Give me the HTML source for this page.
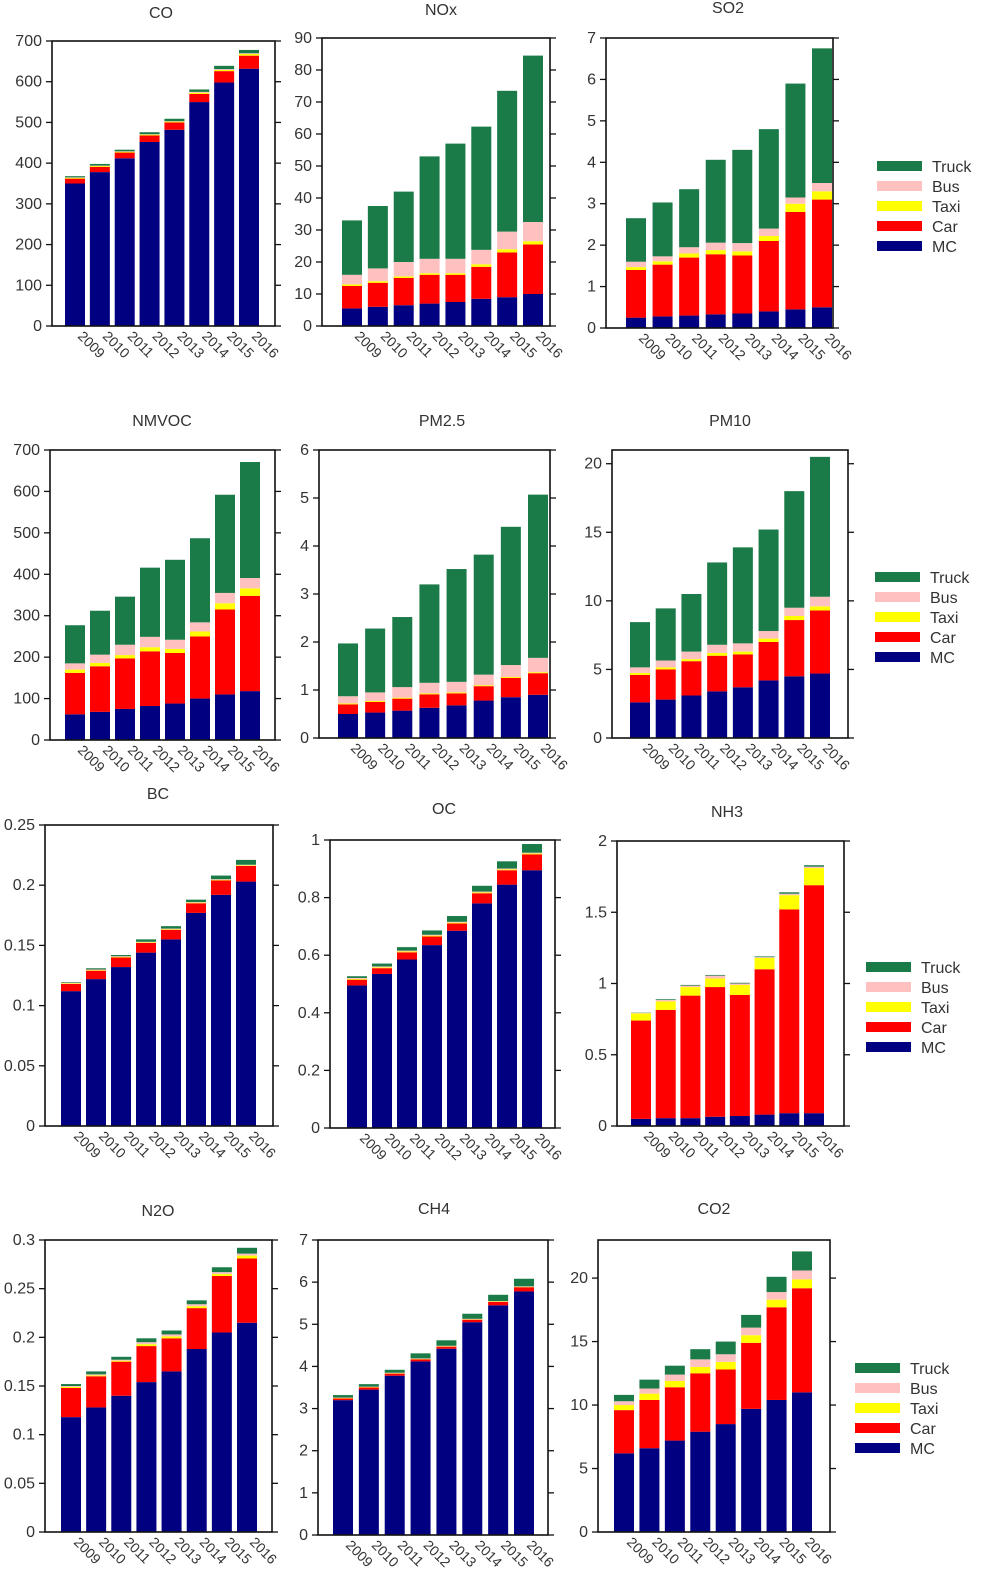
<!DOCTYPE html>
<html><head><meta charset="utf-8">
<style>
html,body{margin:0;padding:0;background:#fff;}
svg{display:block;font-family:"Liberation Sans",Arial,sans-serif;}
</style></head>
<body>
<svg id="chart" width="989" height="1590" viewBox="0 0 989 1590" xmlns="http://www.w3.org/2000/svg"></svg>
<script>
const years = ['2009','2010','2011','2012','2013','2014','2015','2016'];
const categories = ['MC','Car','Taxi','Bus','Truck'];
const legendOrder = ['Truck','Bus','Taxi','Car','MC'];

const CO_MC=[350,378,412,452,482,550,598,632];
const CO_Car=[12,13,14,16,18,20,28,32];
const CO_Taxi=[2,2,2,2,2,3,3,4];
const CO_Bus=[1,1,1,1,1,2,2,2];
const CO_Truck=[3,4,4,5,6,6,8,8];

const NOx_MC=[5.5,6,6.5,7,7.5,8.5,9,10];
const NOx_Car=[7,7.5,8.5,9,8.5,10,14,15.5];
const NOx_Taxi=[0.5,0.5,0.5,0.5,0.5,0.8,1,1];
const NOx_Bus=[3,4,4.5,4.5,4.5,4.5,5.5,6];
const NOx_Truck=[17,19.5,22,32,36,38.5,44,52];

const SO2_MC=[0.25,0.28,0.3,0.33,0.35,0.4,0.45,0.5];
const SO2_Car=[1.15,1.25,1.4,1.45,1.4,1.7,2.35,2.6];
const SO2_Taxi=[0.07,0.08,0.1,0.1,0.1,0.12,0.2,0.2];
const SO2_Bus=[0.13,0.12,0.15,0.18,0.2,0.18,0.15,0.2];
const SO2_Truck=[1.05,1.3,1.4,2.0,2.25,2.4,2.75,3.25];

const NMVOC_MC=[62,68,75,82,88,100,110,118];
const NMVOC_Car=[100,110,122,132,122,150,205,230];
const NMVOC_Taxi=[8,8,8,10,10,12,15,18];
const NMVOC_Bus=[15,20,25,25,22,22,25,25];
const NMVOC_Truck=[92,106,116,167,193,203,237,280];

const PM25_MC=[0.5,0.53,0.57,0.63,0.68,0.78,0.85,0.9];
const PM25_Car=[0.2,0.22,0.25,0.28,0.25,0.3,0.4,0.45];
const PM25_Taxi=[0.02,0.02,0.02,0.02,0.02,0.02,0.02,0.02];
const PM25_Bus=[0.15,0.18,0.22,0.22,0.22,0.22,0.25,0.3];
const PM25_Truck=[1.1,1.33,1.46,2.05,2.35,2.5,2.88,3.4];

const PM10_MC=[2.6,2.8,3.1,3.4,3.7,4.2,4.5,4.7];
const PM10_Car=[2.0,2.2,2.5,2.6,2.4,2.8,4.1,4.6];
const PM10_Taxi=[0.15,0.15,0.15,0.2,0.2,0.25,0.3,0.3];
const PM10_Bus=[0.4,0.5,0.55,0.6,0.6,0.55,0.6,0.7];
const PM10_Truck=[3.3,3.8,4.2,6.0,7.0,7.4,8.5,10.2];

const BC_MC=[0.112,0.122,0.132,0.144,0.155,0.177,0.192,0.203];
const BC_Car=[0.006,0.007,0.008,0.008,0.008,0.008,0.012,0.013];
const BC_Taxi=[0.0005,0.0005,0.0005,0.0005,0.0005,0.0005,0.0005,0.0005];
const BC_Bus=[0.0005,0.0005,0.0005,0.0005,0.0005,0.0005,0.0005,0.0005];
const BC_Truck=[0.0005,0.001,0.001,0.002,0.002,0.002,0.003,0.004];

const OC_MC=[0.495,0.535,0.585,0.635,0.685,0.78,0.845,0.895];
const OC_Car=[0.02,0.02,0.025,0.03,0.025,0.035,0.05,0.055];
const OC_Taxi=[0.003,0.003,0.003,0.003,0.003,0.003,0.003,0.003];
const OC_Bus=[0.003,0.003,0.003,0.003,0.003,0.003,0.003,0.003];
const OC_Truck=[0.006,0.01,0.012,0.015,0.02,0.02,0.025,0.03];

const NH3_MC=[0.05,0.055,0.055,0.065,0.07,0.08,0.09,0.09];
const NH3_Car=[0.69,0.76,0.86,0.91,0.85,1.02,1.43,1.6];
const NH3_Taxi=[0.05,0.06,0.06,0.06,0.07,0.08,0.1,0.12];
const NH3_Bus=[0.003,0.01,0.01,0.02,0.01,0.005,0.01,0.01];
const NH3_Truck=[0.002,0.005,0.005,0.005,0.005,0.005,0.01,0.01];

const N2O_MC=[0.118,0.128,0.14,0.154,0.165,0.188,0.205,0.215];
const N2O_Car=[0.03,0.032,0.035,0.037,0.034,0.042,0.058,0.066];
const N2O_Taxi=[0.001,0.001,0.001,0.002,0.002,0.002,0.002,0.003];
const N2O_Bus=[0.001,0.001,0.001,0.002,0.002,0.002,0.002,0.002];
const N2O_Truck=[0.002,0.003,0.003,0.004,0.004,0.004,0.005,0.006];

const CH4_MC=[3.2,3.45,3.78,4.12,4.42,5.05,5.45,5.78];
const CH4_Car=[0.04,0.05,0.05,0.05,0.05,0.06,0.08,0.1];
const CH4_Taxi=[0.01,0.01,0.01,0.01,0.01,0.01,0.01,0.01];
const CH4_Bus=[0.01,0.01,0.01,0.01,0.01,0.01,0.01,0.01];
const CH4_Truck=[0.06,0.06,0.07,0.12,0.13,0.12,0.15,0.18];

const CO2_MC=[6.2,6.6,7.2,7.9,8.5,9.7,10.4,11.0];
const CO2_Car=[3.4,3.8,4.2,4.6,4.3,5.2,7.3,8.2];
const CO2_Taxi=[0.4,0.5,0.5,0.5,0.6,0.6,0.6,0.7];
const CO2_Bus=[0.3,0.4,0.5,0.6,0.6,0.6,0.6,0.7];
const CO2_Truck=[0.5,0.7,0.7,0.8,1.0,1.0,1.2,1.5];

const ticksCO=['0','100','200','300','400','500','600','700'];
const ticksNOx=['0','10','20','30','40','50','60','70','80','90'];
const ticksSO2=['0','1','2','3','4','5','6','7'];
const ticksNMVOC=['0','100','200','300','400','500','600','700'];
const ticksPM25=['0','1','2','3','4','5','6'];
const ticksPM10=['0','5','10','15','20'];
const ticksBC=['0','0.05','0.1','0.15','0.2','0.25'];
const ticksOC=['0','0.2','0.4','0.6','0.8','1'];
const ticksNH3=['0','0.5','1','1.5','2'];
const ticksN2O=['0','0.05','0.1','0.15','0.2','0.25','0.3'];
const ticksCH4=['0','1','2','3','4','5','6','7'];
const ticksCO2=['0','5','10','15','20'];

const colors={MC:'#000080',Car:'#ff0000',Taxi:'#ffff00',Bus:'#ffc0c0',Truck:'#1a7a48'};

const panels=[
 {name:'CO',key:'co',series:[CO_MC,CO_Car,CO_Taxi,CO_Bus,CO_Truck],ticks:ticksCO,max:700,x0:52,x1:275,yt:41,yb:326,c0:75,c7:249,tx:161,ty:18},
 {name:'NOx',key:'nox',series:[NOx_MC,NOx_Car,NOx_Taxi,NOx_Bus,NOx_Truck],ticks:ticksNOx,max:90,x0:322,x1:550,yt:38,yb:326,c0:352,c7:533,tx:441,ty:15},
 {name:'SO2',key:'so2',series:[SO2_MC,SO2_Car,SO2_Taxi,SO2_Bus,SO2_Truck],ticks:ticksSO2,max:7,x0:606,x1:833,yt:38,yb:328,c0:636,c7:822,tx:728,ty:13},
 {name:'NMVOC',key:'nmvoc',series:[NMVOC_MC,NMVOC_Car,NMVOC_Taxi,NMVOC_Bus,NMVOC_Truck],ticks:ticksNMVOC,max:700,x0:50,x1:275,yt:450,yb:740,c0:75,c7:250,tx:162,ty:426},
 {name:'PM2.5',key:'pm25',series:[PM25_MC,PM25_Car,PM25_Taxi,PM25_Bus,PM25_Truck],ticks:ticksPM25,max:6,x0:319,x1:550,yt:450,yb:738,c0:348,c7:538,tx:442,ty:426},
 {name:'PM10',key:'pm10',series:[PM10_MC,PM10_Car,PM10_Taxi,PM10_Bus,PM10_Truck],ticks:ticksPM10,max:21,x0:612,x1:848,yt:450,yb:738,c0:640,c7:820,tx:730,ty:426},
 {name:'BC',key:'bc',series:[BC_MC,BC_Car,BC_Taxi,BC_Bus,BC_Truck],ticks:ticksBC,max:0.25,x0:45,x1:273,yt:825,yb:1126,c0:71,c7:246,tx:158,ty:799},
 {name:'OC',key:'oc',series:[OC_MC,OC_Car,OC_Taxi,OC_Bus,OC_Truck],ticks:ticksOC,max:1,x0:330,x1:555,yt:840,yb:1128,c0:357,c7:532,tx:444,ty:814},
 {name:'NH3',key:'nh3',series:[NH3_MC,NH3_Car,NH3_Taxi,NH3_Bus,NH3_Truck],ticks:ticksNH3,max:2,x0:617,x1:844,yt:841,yb:1126,c0:641,c7:814,tx:727,ty:817},
 {name:'N2O',key:'n2o',series:[N2O_MC,N2O_Car,N2O_Taxi,N2O_Bus,N2O_Truck],ticks:ticksN2O,max:0.3,x0:45,x1:272,yt:1240,yb:1532,c0:71,c7:247,tx:158,ty:1216},
 {name:'CH4',key:'ch4',series:[CH4_MC,CH4_Car,CH4_Taxi,CH4_Bus,CH4_Truck],ticks:ticksCH4,max:7,x0:318,x1:548,yt:1240,yb:1535,c0:343,c7:524,tx:434,ty:1214},
 {name:'CO2',key:'co2',series:[CO2_MC,CO2_Car,CO2_Taxi,CO2_Bus,CO2_Truck],ticks:ticksCO2,max:23,x0:598,x1:830,yt:1240,yb:1532,c0:624,c7:802,tx:714,ty:1214}
];
const legends=[{x:877,y:166,k:'row1'},{x:875,y:577,k:'row2'},{x:866,y:967,k:'row3'},{x:855,y:1368,k:'row4'}];

const NS='http://www.w3.org/2000/svg';
const svg=document.getElementById('chart');
function mk(tag,attrs,parent){const e=document.createElementNS(NS,tag);for(const k in attrs)e.setAttribute(k,attrs[k]);(parent||svg).appendChild(e);return e;}

panels.forEach(p=>{
  const g=mk('g',{});
  
  
  const yScale=v=>p.yb-(v/p.max)*(p.yb-p.yt);
  const xScale=i=>p.c0+i*(p.c7-p.c0)/(years.length-1);
  const bw=20;
  const t=mk('text',{x:p.tx,y:p.ty,'text-anchor':'middle','font-size':16,fill:'#333'},g);
  t.textContent=p.name;
  
  
  years.forEach((yr,i)=>{
    let acc=0;
    categories.forEach((c,ci)=>{
      const v=p.series[ci][i];
      const r=mk('rect',{x:xScale(i)-bw/2,y:yScale(acc+v),width:bw,height:Math.max(0,yScale(acc)-yScale(acc+v)),fill:colors[c]},g);
      
      
      acc+=v;
    });
    const lx=xScale(i)+2, ly=p.yb+11;
    const tl=mk('text',{x:lx,y:ly,'font-size':14,fill:'#333',transform:'rotate(45 '+lx+' '+ly+')'},g);
    tl.textContent=yr;
    
    
  });
  const frame=mk('rect',{x:p.x0,y:p.yt,width:p.x1-p.x0,height:p.yb-p.yt,fill:'none',stroke:'#111','stroke-width':1.6},g);
  
  
  p.ticks.forEach(tk=>{
    const y=yScale(parseFloat(tk));
    mk('line',{x1:p.x0-6,x2:p.x0,y1:y,y2:y,stroke:'#111','stroke-width':1.3},g);
    mk('line',{x1:p.x1,x2:p.x1+6,y1:y,y2:y,stroke:'#111','stroke-width':1.3},g);
    const yl=mk('text',{x:p.x0-10,y:y+5,'text-anchor':'end','font-size':16,fill:'#333'},g);
    yl.textContent=tk;
    
    
  });
});

legends.forEach(L=>{
  const g=mk('g',{});
  
  
  legendOrder.forEach((c,i)=>{
    const y=L.y+i*20;
    const r=mk('rect',{x:L.x,y:y-5,width:45,height:10,fill:colors[c]},g);
    
    
    const t=mk('text',{x:L.x+55,y:y+6,'font-size':16,fill:'#333'},g);
    t.textContent=c;
    
    
  });
});
</script>
</body></html>
